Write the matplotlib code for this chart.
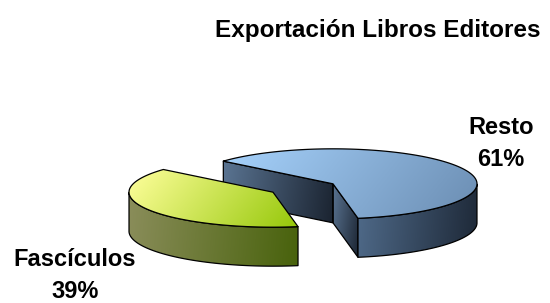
import matplotlib
matplotlib.use('Agg')
import matplotlib.pyplot as plt
import numpy as np
from matplotlib.patches import Polygon
from matplotlib.colors import LinearSegmentedColormap

# data
labels = ['Resto', 'Fascículos']
values = [61, 39]
title = 'Exportación Libros Editores'

# pseudo-3D pie geometry (pixels)
center = (303, 188)
rx, ry, depth = 144, 35, 39
start_angle = -80
explode = 0.24

top_colors = [('#a6d2fc', '#6b8db2'), ('#ffff9c', '#96c80a')]
side_colors = [('#4f6a89', '#1e2938'), ('#8a8d5a', '#48620c')]
cut_colors = [('#5a7492', '#1b2431'), ('#8a8d5a', '#48620c')]


def grad_fill(ax, pts, c0, c1, direction, z):
    pts = np.asarray(pts)
    poly = Polygon(pts, closed=True, facecolor='none', edgecolor='black',
                   lw=0.9, joinstyle='round', zorder=z + 0.5)
    ax.add_patch(poly)
    x0, x1 = pts[:, 0].min(), pts[:, 0].max()
    y0, y1 = pts[:, 1].min(), pts[:, 1].max()
    gx, gy = np.meshgrid(np.linspace(0, 1, 80), np.linspace(0, 1, 80))
    dx, dy = direction
    t = gx * dx * (x1 - x0) + gy * dy * (y1 - y0)
    t = (t - t.min()) / (t.max() - t.min() + 1e-9)
    cmap = LinearSegmentedColormap.from_list('g', [c0, c1])
    im = ax.imshow(t, cmap=cmap, extent=(x0, x1, y1, y0), origin='upper',
                   aspect='auto', interpolation='bilinear', zorder=z)
    im.set_clip_path(poly)


def pt(cx, cy, a, dz=0):
    r = np.radians(a)
    return (cx + rx * np.cos(r), cy - ry * np.sin(r) + dz)


fig = plt.figure(figsize=(5.5, 3.03), dpi=100)
ax = fig.add_axes([0, 0, 1, 1])

total = sum(values)
a0 = start_angle
for i, v in enumerate(values):
    span = 360.0 * v / total
    a1 = a0 + span
    mid = np.radians((a0 + a1) / 2)
    cx = center[0] + explode * rx * np.cos(mid)
    cy = center[1] - explode * ry * np.sin(mid)
    z = 1 + i * 4

    # cut faces
    for a, normal in ((a0, a0 - 90), (a1, a1 + 90)):
        if np.sin(np.radians(normal)) < 0:
            p = pt(cx, cy, a)
            face = [(cx, cy), p, (p[0], p[1] + depth), (cx, cy + depth)]
            grad_fill(ax, face, cut_colors[i][0], cut_colors[i][1], (1, 0.15), z)

    # outer side (front part only)
    angs = np.linspace(a0, a1, 300)
    vis = angs[np.sin(np.radians(angs)) <= 0]
    if len(vis) > 1:
        upper = [pt(cx, cy, a) for a in vis]
        lower = [pt(cx, cy, a, depth) for a in vis[::-1]]
        grad_fill(ax, upper + lower, side_colors[i][0], side_colors[i][1], (1, 0.1), z + 1)

    # top face
    top = [(cx, cy)] + [pt(cx, cy, a) for a in angs]
    grad_fill(ax, top, top_colors[i][0], top_colors[i][1], (1, 0.8), z + 2)

    a0 = a1

# labels
font = 'Liberation Sans'
ax.text(378, 30, title, ha='center', va='center', fontsize=17.5,
        fontweight='bold', family=font)
label_pos = [(501, 127, 160), (75, 260, 292)]
for (x, y1, y2), lab, v in zip(label_pos, labels, values):
    ax.text(x, y1, lab, ha='center', va='center', fontsize=17,
            fontweight='bold', family=font)
    ax.text(x, y2, f'{v}%', ha='center', va='center', fontsize=17,
            fontweight='bold', family=font)

ax.set_xlim(0, 550)
ax.set_ylim(303, 0)
ax.axis('off')
fig.savefig('out.png', dpi=100)
